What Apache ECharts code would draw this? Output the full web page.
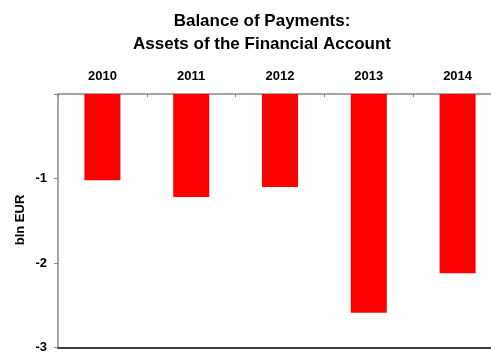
<!DOCTYPE html>
<html>
<head>
<meta charset="utf-8">
<script src="https://cdn.jsdelivr.net/npm/echarts@6/dist/echarts.min.js"></script>
<style>
  html, body { margin: 0; padding: 0; background: #fff; overflow: hidden; }
  #chart { width: 502px; height: 354px; }
</style>
</head>
<body>
<div id="chart"></div>
<script>
// Financial account assets, bln EUR
const years = ['2010', '2011', '2012', '2013', '2014'];
const assets = [-1.02, -1.22, -1.10, -2.59, -2.12];
const yTicks = [0, -1, -2, -3];

const FONT = 'Liberation Sans, Arial, sans-serif';
const chart = echarts.init(document.getElementById('chart'));

chart.setOption({
  animation: false,
  backgroundColor: '#ffffff',
  title: {
    text: 'Balance of Payments:\nAssets of the Financial Account',
    left: 257,
    top: 5,
    textAlign: 'center',
    textStyle: {
      fontFamily: FONT,
      fontSize: 17,
      fontWeight: 'bold',
      color: '#000',
      lineHeight: 23
    }
  },
  grid: { left: 58, right: 0, top: 94, bottom: 5, containLabel: false },
  xAxis: [
    {
      type: 'category',
      data: years,
      position: 'top',
      axisLine: { show: true, lineStyle: { color: '#888', width: 1.5 } },
      axisTick: { show: true, inside: true, length: 3, lineStyle: { color: '#888' } },
      axisLabel: {
        margin: 11,
        fontFamily: FONT,
        fontSize: 13,
        fontWeight: 'bold',
        color: '#000'
      }
    },
    {
      type: 'category',
      data: years,
      position: 'bottom',
      axisLine: { show: true, onZero: false, lineStyle: { color: '#000', width: 1.5 } },
      axisTick: { show: false },
      axisLabel: { show: false }
    }
  ],
  yAxis: {
    type: 'value',
    min: yTicks[yTicks.length - 1],
    max: yTicks[0],
    interval: 1,
    axisLine: { show: true, lineStyle: { color: '#888', width: 1.5 } },
    axisTick: { show: true, length: 4, lineStyle: { color: '#888' } },
    splitLine: { show: false },
    axisLabel: {
      margin: 11,
      fontFamily: FONT,
      fontSize: 13,
      fontWeight: 'bold',
      color: '#000',
      formatter: v => (v === 0 ? '' : String(v))
    }
  },
  graphic: [
    {
      type: 'text',
      x: 20,
      y: 220,
      rotation: Math.PI / 2,
      style: {
        text: 'bln EUR',
        fontFamily: FONT,
        fontSize: 13,
        fontWeight: 'bold',
        fill: '#000',
        textAlign: 'center',
        textVerticalAlign: 'middle'
      }
    }
  ],
  series: [
    {
      type: 'bar',
      data: assets,
      barWidth: 36,
      itemStyle: { color: '#ff0000' }
    }
  ]
});
</script>
</body>
</html>
